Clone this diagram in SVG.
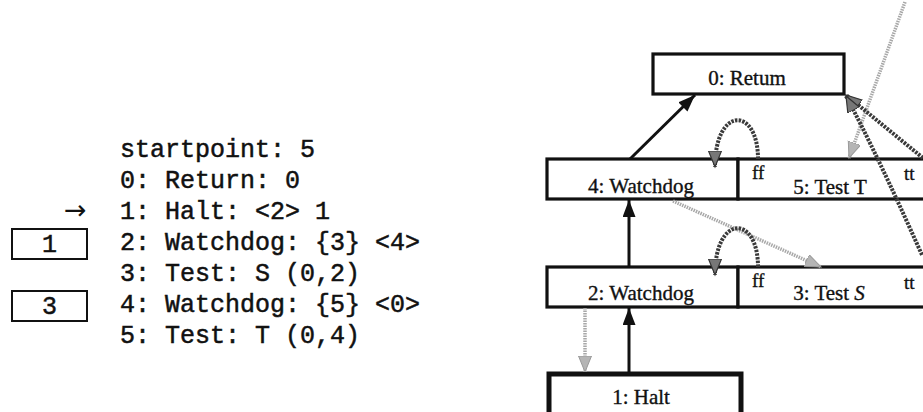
<svg xmlns="http://www.w3.org/2000/svg" width="923" height="412" viewBox="0 0 923 412">
<style>
.mono{font-family:"Liberation Mono","DejaVu Sans Mono",monospace;font-size:25px;fill:#111;stroke:#111;stroke-width:0.5}
.ser{font-family:"Liberation Serif","Times New Roman",serif;font-size:21px;fill:#111;stroke:#111;stroke-width:0.35}
.lab{font-family:"Liberation Serif","Times New Roman",serif;font-size:19px;fill:#111;stroke:#111;stroke-width:0.35}
.box{fill:#fff;stroke:#111;stroke-width:3.2}
.thick{fill:#fff;stroke:#111;stroke-width:5}
.solid{fill:none;stroke:#111;stroke-width:3}
.bead{fill:none;stroke:#3a3a3a;stroke-width:4;stroke-dasharray:2.5 1.2}
.gray{fill:none;stroke:#a8a8a8;stroke-width:3.5;stroke-dasharray:1.5 1}
</style>
<defs>
<marker id="aSolid" markerUnits="userSpaceOnUse" markerWidth="18" markerHeight="14" refX="17" refY="6.5" orient="auto">
<path d="M0,0 L17,6.5 L0,13 Z" fill="#111"/>
</marker>
<marker id="aBead" markerUnits="userSpaceOnUse" markerWidth="18" markerHeight="14" refX="16" refY="6.5" orient="auto">
<path d="M0,0 L16,6.5 L0,13 Z" fill="#777" stroke="#333" stroke-width="1.2"/>
</marker>
<marker id="aGray" markerUnits="userSpaceOnUse" markerWidth="18" markerHeight="14" refX="16" refY="6.5" orient="auto">
<path d="M0,0 L16,6.5 L0,13 Z" fill="#b5b5b5" stroke="#999" stroke-width="1"/>
</marker>
</defs>

<g id="listing">
<text class="mono" x="120" y="157">startpoint: 5</text>
<text class="mono" x="120" y="188">0: Return: 0</text>
<text class="mono" x="120" y="219">1: Halt: &lt;2&gt; 1</text>
<text class="mono" x="120" y="250">2: Watchdog: {3} &lt;4&gt;</text>
<text class="mono" x="120" y="281">3: Test: S (0,2)</text>
<text class="mono" x="120" y="312">4: Watchdog: {5} &lt;0&gt;</text>
<text class="mono" x="120" y="343">5: Test: T (0,4)</text>
<text x="64" y="219" style="font-family:'DejaVu Sans',sans-serif;font-size:27px;fill:#111">→</text>
</g>
<g id="stack1">
<rect x="12" y="229" width="75" height="30" fill="#fff" stroke="#111" stroke-width="2"/>
<text class="mono" x="49.5" y="252" text-anchor="middle">1</text>
</g>
<g id="stack3">
<rect x="12" y="291" width="75" height="30" fill="#fff" stroke="#111" stroke-width="2"/>
<text class="mono" x="49.5" y="314" text-anchor="middle">3</text>
</g>

<g id="n0">
<rect class="box" x="653" y="54" width="191" height="40"/>
<text class="ser" x="747" y="85" text-anchor="middle">0: Retum</text>
</g>
<g id="n4">
<rect class="box" x="547" y="159" width="191" height="40"/>
<text class="ser" x="641" y="193" text-anchor="middle">4: Watchdog</text>
</g>
<g id="n5">
<rect class="box" x="738" y="159" width="190" height="40"/>
<text class="ser" x="830" y="194" text-anchor="middle">5: Test T</text>
<text class="lab" x="752" y="179">ff</text>
<text class="lab" x="904" y="180">tt</text>
</g>
<g id="n2">
<rect class="box" x="547" y="267" width="191" height="40"/>
<text class="ser" x="641" y="300" text-anchor="middle">2: Watchdog</text>
</g>
<g id="n3">
<rect class="box" x="738" y="267" width="190" height="40"/>
<text class="ser" x="829" y="300" text-anchor="middle">3: Test <tspan font-style="italic">S</tspan></text>
<text class="lab" x="752" y="287">ff</text>
<text class="lab" x="904" y="289">tt</text>
</g>
<g id="n1">
<rect class="thick" x="549" y="374" width="192" height="46"/>
<text class="ser" x="641" y="404" text-anchor="middle">1: Halt</text>
</g>

<g id="connectors">
<line class="solid" x1="630" y1="159" x2="695" y2="95" marker-end="url(#aSolid)"/>
<line class="solid" x1="629" y1="267" x2="629" y2="200" marker-end="url(#aSolid)"/>
<line class="solid" x1="629" y1="373" x2="629" y2="308" marker-end="url(#aSolid)"/>
<line class="gray" x1="585" y1="308" x2="585" y2="372" marker-end="url(#aGray)"/>
<line class="gray" x1="673" y1="201" x2="821" y2="267" marker-end="url(#aGray)"/>
<line class="gray" x1="905" y1="2" x2="849" y2="158" marker-end="url(#aGray)"/>
<path class="bead" d="M758,159 C758,106 715,106 715,167" marker-end="url(#aBead)"/>
<path class="bead" d="M758,267 C758,214 715,214 715,275" marker-end="url(#aBead)"/>
<line class="bead" x1="923" y1="158" x2="846" y2="95" marker-end="url(#aBead)"/>
<path class="bead" d="M922,255 Q876,152 846,96" marker-end="url(#aBead)"/>
</g>
</svg>
